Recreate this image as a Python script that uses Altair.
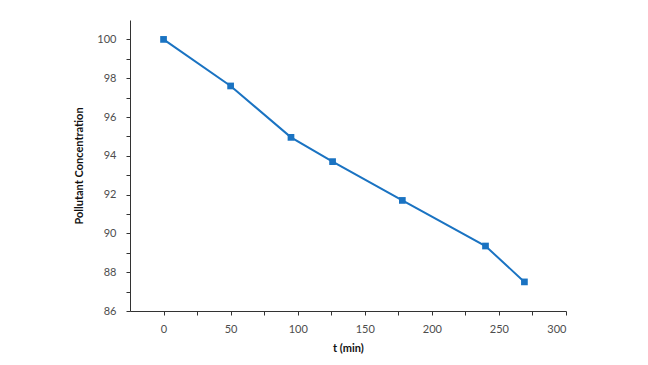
import altair as alt
import pandas as pd

t_min = [0, 50, 95, 126, 178, 240, 269]
concentration = [100.0, 97.6, 94.95, 93.7, 91.7, 89.35, 87.5]

x_major = [0, 50, 100, 150, 200, 250, 300]
x_minor = [25, 75, 125, 175, 225, 275]
y_major = [86, 88, 90, 92, 94, 96, 98, 100]
y_minor = [87, 89, 91, 93, 95, 97, 99]

df = pd.DataFrame({"t": t_min, "c": concentration})

font = "Lato"
color = "#1a73c2"
xs = alt.Scale(domain=[-25, 300], nice=False, zero=False)
ys = alt.Scale(domain=[86, 101], nice=False, zero=False)

x_enc = alt.X("t:Q", title="t (min)", scale=xs,
              axis=alt.Axis(values=x_major, grid=False, orient="bottom",
                            tickSize=4, labelPadding=8, titlePadding=8,
                            domainColor="#333333", tickColor="#333333",
                            labelColor="#4d4d4d", labelFont=font, labelFontSize=11,
                            titleFont=font, titleFontSize=11, titleFontWeight="bold",
                            titleColor="#111111"))
y_enc = alt.Y("c:Q", title="Pollutant Concentration", scale=ys,
              axis=alt.Axis(values=y_major, grid=False, orient="left",
                            tickSize=4, labelPadding=10, titlePadding=12,
                            domainColor="#333333", tickColor="#333333",
                            labelColor="#4d4d4d", labelFont=font, labelFontSize=11,
                            titleFont=font, titleFontSize=11, titleFontWeight="bold",
                            titleColor="#111111"))

line = alt.Chart(df).mark_line(color=color, strokeWidth=2).encode(x=x_enc, y=y_enc)
pts = alt.Chart(df).mark_point(shape="square", filled=True, color=color,
                               size=45, opacity=1).encode(
    x=alt.X("t:Q", scale=xs, axis=None),
    y=alt.Y("c:Q", scale=ys, axis=None),
)

minor = alt.Chart(df).mark_point(opacity=0).encode(
    x=alt.X("t:Q", scale=xs, title=None,
            axis=alt.Axis(values=x_minor, labels=False, domain=False, grid=False,
                          orient="bottom", tickSize=4, tickColor="#333333")),
    y=alt.Y("c:Q", scale=ys, title=None,
            axis=alt.Axis(values=y_minor, labels=False, domain=False, grid=False,
                          orient="left", tickSize=4, tickColor="#333333")),
)

chart = (line + pts + minor).resolve_axis(x="independent", y="independent").properties(
    width=436, height=291,
    autosize=alt.AutoSizeParams(type="none"),
    padding={"left": 122, "top": 12, "right": 10, "bottom": 50},
).configure_view(stroke=None)

chart.save("out.html", embed_options={"renderer": "svg", "actions": False})
